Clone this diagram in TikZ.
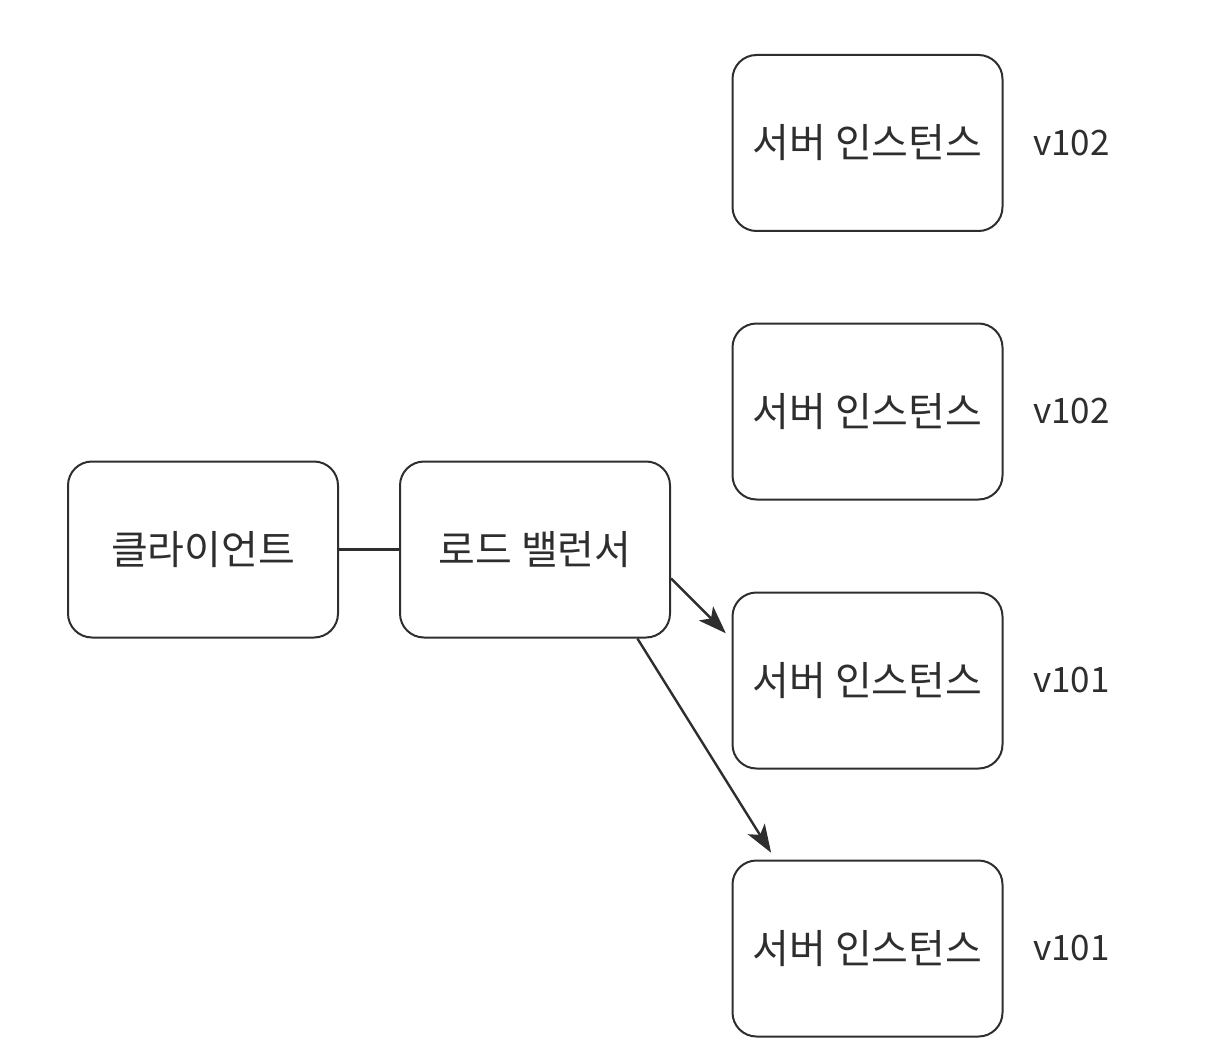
\documentclass[tikz,border=0pt]{standalone}
\usepackage{fontspec}
\setmainfont{Noto Sans CJK KR}
\usetikzlibrary{arrows.meta,positioning}
\definecolor{ink}{HTML}{2E2E2E}
\tikzset{
  box/.style={draw=ink, line width=2pt, rounded corners=24pt, minimum width=270pt, minimum height=176pt, inner sep=0pt, text=ink, font=\fontsize{40}{46}\selectfont},
  ver/.style={text=ink, font=\fontsize{35}{40}\selectfont, anchor=west},
  link/.style={draw=ink, line width=2.4pt},
  flow/.style={link, -{Stealth[length=28pt, width=20pt, inset=7pt]}, shorten >=8pt}
}
\begin{document}
\begin{tikzpicture}[x=1pt, y=-1pt]
	\useasboundingbox (0,0) rectangle (1222,1064);
	\node[box] (client) at (203,549.5)   {클라이언트};
	\node[box] (lb)     at (535,549.5)   {로드 밸런서};
	\node[box] (s1)     at (867.5,143)   {서버 인스턴스};
	\node[box] (s2)     at (867.5,411.5) {서버 인스턴스};
	\node[box] (s3)     at (867.5,680.5) {서버 인스턴스};
	\node[box] (s4)     at (867.5,948.5) {서버 인스턴스};
	\node[ver] (v1) at ([xshift=26pt]s1.east) {v102};
	\node[ver] (v2) at ([xshift=26pt]s2.east) {v102};
	\node[ver] (v3) at ([xshift=26pt]s3.east) {v101};
	\node[ver] (v4) at ([xshift=26pt]s4.east) {v101};
	\draw[link] (client.east) -- (lb.west);
	\draw[flow] (lb.-12) -- (s3.163);
	\draw[flow] (lb.-41) -- (s4.136);
\end{tikzpicture}
\end{document}
